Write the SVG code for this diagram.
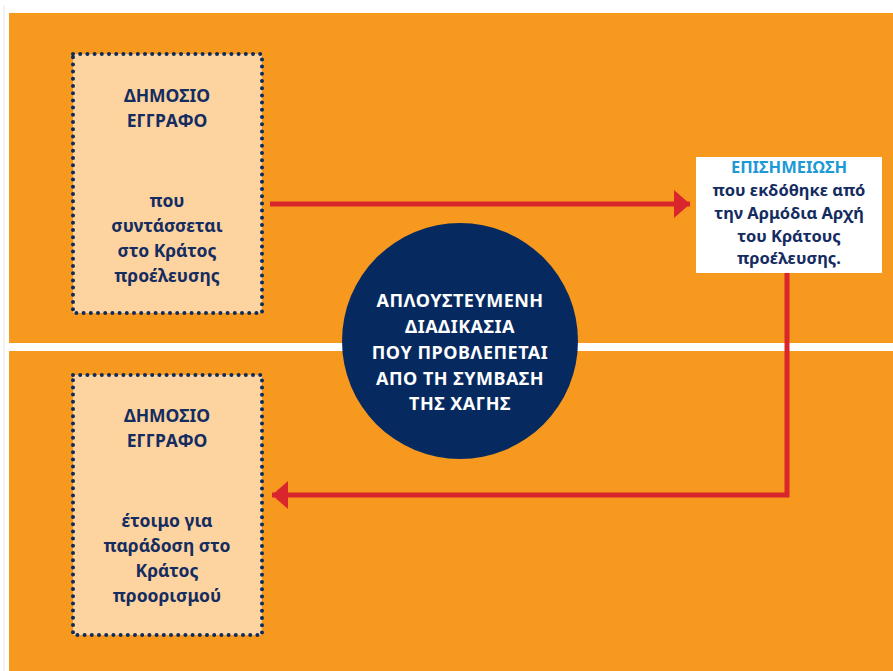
<svg xmlns="http://www.w3.org/2000/svg" width="893" height="671" viewBox="0 0 893 671">
<defs>
<style>
.band{fill:#F7991E}
.doc{fill:#FDD4A0;stroke:#0B2A5E;stroke-width:4;stroke-dasharray:0 7.2;stroke-linecap:round}
.t{font-family:"Noto Sans","Open Sans","DejaVu Sans",sans-serif;font-weight:bold;text-anchor:middle}
.navy{fill:#142C5F}
.w{fill:#FFFFFF}
.blue{fill:#1D9AD6}
.conn{fill:none;stroke:#D9262C;stroke-width:5}
</style>
<marker id="ah" markerUnits="userSpaceOnUse" markerWidth="18" markerHeight="28" refX="16" refY="14" orient="auto">
<path d="M0,0 L16,14 L0,28 Z" fill="#D9262C"/>
</marker>
</defs>
<rect x="0" y="0" width="893" height="671" fill="#FFFFFF"/>
<line x1="4" y1="6" x2="4" y2="671" stroke="#E6E6E6" stroke-width="1"/>
<rect class="band" x="9" y="13" width="884" height="330"/>
<rect class="band" x="9" y="351" width="884" height="320"/>

<g id="connectors">
<line class="conn" x1="270" y1="204" x2="690" y2="204" marker-end="url(#ah)"/>
<polyline class="conn" points="787,273 787,495 272,495" marker-end="url(#ah)"/>
</g>

<g id="doc-origin">
<rect class="doc" x="73" y="54" width="189" height="259"/>
<text class="t navy" font-size="17.5"><tspan x="167" y="102">ΔΗΜΟΣΙΟ</tspan><tspan x="167" y="127">ΕΓΓΡΑΦΟ</tspan><tspan x="167" y="207">που</tspan><tspan x="167" y="232">συντάσσεται</tspan><tspan x="167" y="257">στο Κράτος</tspan><tspan x="167" y="282">προέλευσης</tspan></text>
</g>

<g id="doc-destination">
<rect class="doc" x="73" y="375" width="189" height="260"/>
<text class="t navy" font-size="17.5"><tspan x="167" y="422">ΔΗΜΟΣΙΟ</tspan><tspan x="167" y="447">ΕΓΓΡΑΦΟ</tspan><tspan x="167" y="527">έτοιμο για</tspan><tspan x="167" y="552">παράδοση στο</tspan><tspan x="167" y="577">Κράτος</tspan><tspan x="167" y="602">προορισμού</tspan></text>
</g>

<g id="apostille">
<rect x="696" y="157" width="186" height="116" fill="#FFFFFF"/>
<text class="t blue" font-size="16.5" x="789" y="173">ΕΠΙΣΗΜΕΙΩΣΗ</text>
<text class="t navy" font-size="16.5"><tspan x="789" y="196">που εκδόθηκε από</tspan><tspan x="789" y="219">την Αρμόδια Αρχή</tspan><tspan x="789" y="242">του Κράτους</tspan><tspan x="789" y="264">προέλευσης.</tspan></text>
</g>

<g id="hague">
<circle cx="460" cy="341" r="118" fill="#062A60"/>
<text class="t w" font-size="18" letter-spacing="0.5"><tspan x="460" y="307">ΑΠΛΟΥΣΤΕΥΜΕΝΗ</tspan><tspan x="460" y="333">ΔΙΑΔΙΚΑΣΙΑ</tspan><tspan x="460" y="359">ΠΟΥ ΠΡΟΒΛΕΠΕΤΑΙ</tspan><tspan x="460" y="385">ΑΠΟ ΤΗ ΣΥΜΒΑΣΗ</tspan><tspan x="460" y="410">ΤΗΣ ΧΑΓΗΣ</tspan></text>
</g>
</svg>
